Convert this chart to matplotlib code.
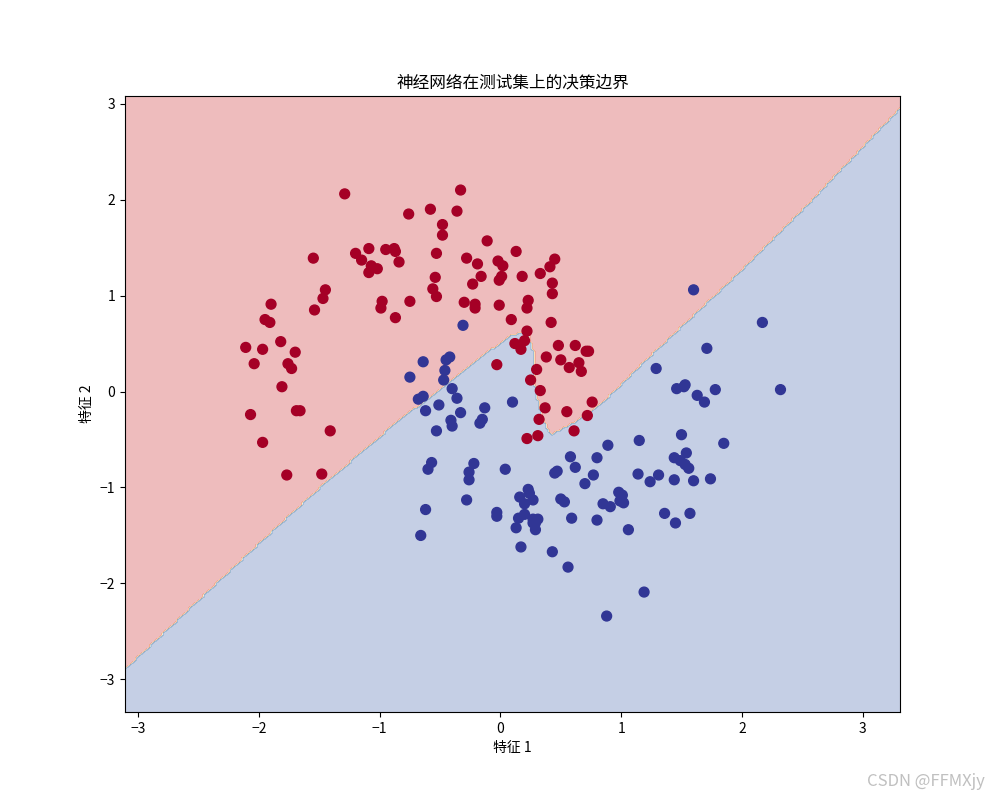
import numpy as np
import matplotlib
matplotlib.use("Agg")
import matplotlib.pyplot as plt

ARQUIVO_SAIDA = "out.png"

# pontos do conjunto de teste, classe 0 (vermelho)
x_classe0 = [
    -1.29, -0.76, -0.58, -1.55, -1.20, -1.15, -1.09, -0.95, -0.88, -0.87,
    -0.84, -1.07, -1.02, -1.09, -1.45, -1.47, -1.90, -1.54, -0.98, -0.99,
    -0.75, -0.87, -1.95, -1.91, -0.56, -0.33, -0.36, -0.48, -0.48, -0.11,
    -0.53, -0.28, -0.19, -0.02, 0.02, 0.13, 0.45, 0.41, -0.16, 0.01,
    -0.01, 0.18, 0.33, 0.43, 0.43, -0.54, -0.53, -0.23, -0.30, -0.21,
    -0.21, -0.01, 0.23, 0.22, 0.09, 0.42, 0.22, -2.11, -1.97, -1.82,
    -1.70, -2.04, -1.76, -1.73, -1.81, -2.07, -1.69, -1.66, -1.41, -1.97,
    -1.77, -1.48, 0.20, 0.12, 0.17, 0.48, 0.62, 0.71, 0.73, 0.38,
    0.50, 0.65, 0.57, 0.67, -0.03, 0.30, 0.25, 0.33, 0.76, 0.37,
    0.55, 0.72, 0.32, 0.61, 0.22, 0.31,
]
y_classe0 = [
    2.06, 1.85, 1.90, 1.39, 1.44, 1.37, 1.49, 1.48, 1.49, 1.46,
    1.35, 1.31, 1.28, 1.24, 1.06, 0.97, 0.91, 0.85, 0.94, 0.87,
    0.94, 0.77, 0.75, 0.72, 1.07, 2.10, 1.88, 1.74, 1.63, 1.57,
    1.44, 1.39, 1.33, 1.36, 1.31, 1.46, 1.38, 1.30, 1.20, 1.20,
    1.16, 1.20, 1.23, 1.13, 1.02, 1.19, 0.99, 1.12, 0.93, 0.91,
    0.87, 0.90, 0.95, 0.87, 0.75, 0.72, 0.63, 0.46, 0.44, 0.52,
    0.41, 0.29, 0.29, 0.24, 0.05, -0.24, -0.20, -0.20, -0.41, -0.53,
    -0.87, -0.86, 0.53, 0.50, 0.44, 0.48, 0.48, 0.42, 0.42, 0.36,
    0.33, 0.30, 0.25, 0.21, 0.28, 0.23, 0.12, 0.01, -0.11, -0.17,
    -0.21, -0.25, -0.29, -0.41, -0.49, -0.46,
]

# pontos do conjunto de teste, classe 1 (azul)
x_classe1 = [
    -0.31, -0.64, -0.75, -0.68, -0.64, -0.62, -0.45, -0.42, -0.46, -0.47,
    -0.40, -0.36, -0.51, -0.33, -0.13, 0.10, -0.41, -0.40, -0.17, -0.15,
    -0.53, 0.58, 0.80, 1.60, 2.17, 1.71, 1.29, 1.46, 1.53, 1.52,
    1.78, 1.63, 1.69, 2.32, -0.57, -0.60, -0.22, -0.26, -0.26, 0.04,
    -0.28, -0.62, -0.66, -0.03, -0.03, 0.23, 0.24, 0.16, 0.20, 0.27,
    0.15, 0.20, 0.27, 0.31, 0.29, 0.27, 0.29, 0.13, 0.17, 0.43,
    0.56, 0.45, 0.47, 0.62, 0.89, 0.77, 0.70, 0.50, 0.53, 0.59,
    0.80, 0.85, 0.91, 0.98, 1.01, 0.99, 1.02, 0.88, 1.15, 1.50,
    1.85, 1.54, 1.44, 1.49, 1.53, 1.56, 1.14, 1.31, 1.24, 1.44,
    1.60, 1.74, 1.06, 1.36, 1.57, 1.45, 1.19,
]
y_classe1 = [
    0.69, 0.31, 0.15, -0.08, -0.05, -0.20, 0.33, 0.36, 0.22, 0.12,
    0.03, -0.07, -0.14, -0.22, -0.17, -0.11, -0.30, -0.36, -0.33, -0.29,
    -0.41, -0.68, -0.69, 1.06, 0.72, 0.45, 0.24, 0.03, 0.07, 0.05,
    0.02, -0.04, -0.11, 0.02, -0.74, -0.81, -0.75, -0.84, -0.92, -0.81,
    -1.13, -1.23, -1.50, -1.26, -1.30, -1.02, -1.06, -1.10, -1.17, -1.13,
    -1.32, -1.28, -1.33, -1.33, -1.37, -1.37, -1.44, -1.42, -1.62, -1.67,
    -1.83, -0.85, -0.83, -0.79, -0.56, -0.87, -0.96, -1.12, -1.15, -1.32,
    -1.34, -1.17, -1.20, -1.05, -1.08, -1.14, -1.16, -2.34, -0.51, -0.45,
    -0.54, -0.64, -0.69, -0.72, -0.76, -0.80, -0.86, -0.87, -0.94, -0.92,
    -0.93, -0.91, -1.44, -1.27, -1.27, -1.37, -2.09,
]

# fronteira de decisao (y em funcao de x)
fronteira_x = [
    -3.40, -3.10, -1.97, -1.51, -0.83, -0.58, -0.20, 0.08, 0.16, 0.23,
    0.26, 0.29, 0.29, 0.31, 0.35, 0.42, 0.60, 0.82, 1.21, 2.01,
    2.51, 3.31, 3.60,
]
fronteira_y = [
    -3.18, -2.885, -1.55, -1.02, -0.29, -0.06, 0.32, 0.58, 0.61, 0.60,
    0.47, 0.35, 0.06, -0.08, -0.29, -0.45, -0.33, -0.15, 0.33, 1.275,
    1.90, 2.95, 3.33,
]


def montar_dados():
    X = np.column_stack([
        np.concatenate([x_classe0, x_classe1]),
        np.concatenate([y_classe0, y_classe1]),
    ])
    y = np.concatenate([np.zeros(len(x_classe0), dtype=int),
                        np.ones(len(x_classe1), dtype=int)])
    return X, y


def prever(xx, yy):
    limite = np.interp(xx, fronteira_x, fronteira_y)
    return np.where(yy > limite, 0, 1)


def gerar_grafico(X, y):
    x_min, x_max = X[:, 0].min() - 1, X[:, 0].max() + 1
    y_min, y_max = X[:, 1].min() - 1, X[:, 1].max() + 1
    h = 0.02
    xx, yy = np.meshgrid(np.arange(x_min, x_max, h),
                         np.arange(y_min, y_max, h))
    Z = prever(xx, yy)

    plt.figure(figsize=(10, 8), dpi=100)
    plt.contourf(xx, yy, Z, cmap=plt.cm.RdYlBu, alpha=0.3)
    plt.scatter(X[:, 0], X[:, 1], c=y, cmap=plt.cm.RdYlBu, s=50)
    plt.title("神经网络在测试集上的决策边界")
    plt.xlabel("特征 1")
    plt.ylabel("特征 2")

    plt.gcf().text(0.985, 0.012, "CSDN @FFMXjy", ha="right", va="bottom",
                   fontsize=12, color="#c0c0c0")

    plt.savefig(ARQUIVO_SAIDA, dpi=100)
    plt.close()


def main():
    plt.rcParams["font.family"] = ["Noto Sans CJK SC", "DejaVu Sans"]
    X, y = montar_dados()
    gerar_grafico(X, y)


if __name__ == "__main__":
    main()
